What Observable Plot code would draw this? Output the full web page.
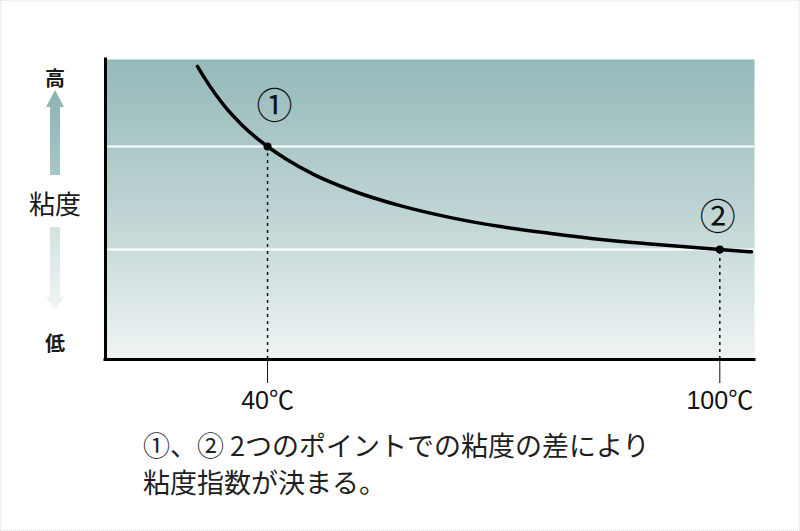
<!DOCTYPE html>
<html>
<head>
<meta charset="utf-8">
<script src="https://cdn.jsdelivr.net/npm/d3@7"></script>
<script src="https://cdn.jsdelivr.net/npm/@observablehq/plot@0.6"></script>
<style>
  html, body { margin: 0; padding: 0; background: #fff; }
  #wrap { position: relative; width: 800px; height: 531px; overflow: hidden; }
  #border { position: absolute; left: 0; top: 0; width: 798px; height: 529px; border: 1px dotted #e2e2e2; pointer-events: none; }
  #caption { padding-left: 143px; padding-top: 1px; font-family: "Noto Sans CJK JP", sans-serif; font-size: 27px; line-height: 37px; color: #1f1f1f; }
</style>
</head>
<body>
<div id="wrap">
  <div id="chart"></div>
  <div id="caption"></div>
  <div id="border"></div>
</div>
<script>
// ---- data ----
const curveTemps = [30.7, 31.8, 33.1, 34.4, 36.4, 38.4, 40, 42.4, 46.1, 51, 57.7, 64.3, 70.9, 77.6, 84.2, 90.8, 100, 104.2];
const curveVisc  = [97.7, 93.2, 88.4, 84.1, 78.7, 74.1, 71, 66.9, 61.7, 56.5, 51.2, 47.3, 44.3, 42, 40, 38.5, 36.7, 35.9];
const pointTemps = [40, 100];
const pointVisc  = [71, 36.7];
const pointLabels = ["①", "②"];
const tickValues = [40, 100];
const tickUnit = "℃";
const xDomain = [18.5, 104.6];
const yDomain = [0, 100];
const axisTop = "高";
const axisMid = "粘度";
const axisBottom = "低";
const captionLines = ["①、② 2つのポイントでの粘度の差により", "粘度指数が決まる。"];

const curve = curveTemps.map((t, i) => ({t, v: curveVisc[i]}));
const points = pointTemps.map((t, i) => ({t, v: pointVisc[i], label: pointLabels[i]}));

function decor(index, scales, values, dims) {
  const g = d3.create("svg:g");
  const defs = g.append("defs");
  const bg = defs.append("linearGradient").attr("id", "bg").attr("x1", 0).attr("y1", 0).attr("x2", 0).attr("y2", 1);
  bg.append("stop").attr("offset", "0%").attr("stop-color", "#95b9b9");
  bg.append("stop").attr("offset", "50%").attr("stop-color", "#bed3d3");
  bg.append("stop").attr("offset", "100%").attr("stop-color", "#eff4f4");
  const up = defs.append("linearGradient").attr("id", "upArrow").attr("x1", 0).attr("y1", 0).attr("x2", 0).attr("y2", 1);
  up.append("stop").attr("offset", "0%").attr("stop-color", "#8db3b3");
  up.append("stop").attr("offset", "100%").attr("stop-color", "#a9c6c6");
  const dn = defs.append("linearGradient").attr("id", "dnArrow").attr("x1", 0).attr("y1", 0).attr("x2", 0).attr("y2", 1);
  dn.append("stop").attr("offset", "0%").attr("stop-color", "#d2e1e1");
  dn.append("stop").attr("offset", "100%").attr("stop-color", "#f0f5f5");

  const cx = dims.marginLeft - 50;
  const top = dims.marginTop;
  const bottom = dims.height - dims.marginBottom;
  const sw = 5, hw = 9;
  const t1 = top + 31, b1 = top + 48, s1 = top + 116;
  g.append("path").attr("fill", "url(#upArrow)")
    .attr("d", `M${cx},${t1} L${cx + hw},${b1} L${cx + sw},${b1} L${cx + sw},${s1} L${cx - sw},${s1} L${cx - sw},${b1} L${cx - hw},${b1} Z`);
  const s2 = top + 168, b2 = bottom - 62, t2 = bottom - 49;
  g.append("path").attr("fill", "url(#dnArrow)")
    .attr("d", `M${cx - sw},${s2} L${cx + sw},${s2} L${cx + sw},${b2} L${cx + hw},${b2} L${cx},${t2} L${cx - hw},${b2} L${cx - sw},${b2} Z`);
  const txt = (s, y, size, weight) => g.append("text").text(s)
    .attr("x", cx).attr("y", y).attr("text-anchor", "middle").attr("dominant-baseline", "central")
    .attr("font-family", "'Noto Sans CJK JP', sans-serif").attr("font-size", size).attr("font-weight", weight)
    .attr("fill", "#1a1a1a");
  txt(axisTop, top + 18, 20, "bold");
  txt(axisMid, top + 143, 26, "normal");
  txt(axisBottom, bottom - 17, 20, "bold");
  return g.node();
}

const chart = Plot.plot({
  width: 800,
  height: 425,
  marginTop: 59,
  marginBottom: 66,
  marginLeft: 105,
  marginRight: 46,
  x: {domain: xDomain, axis: null},
  y: {domain: yDomain, axis: null},
  style: {fontFamily: "'Liberation Sans', 'Noto Sans CJK JP', sans-serif", color: "#111", background: "transparent", overflow: "visible"},
  marks: [
    decor,
    Plot.frame({fill: "url(#bg)", stroke: "none"}),
    Plot.ruleY(pointVisc, {stroke: "white", strokeWidth: 2}),
    Plot.ruleX(points, {x: "t", y1: yDomain[0], y2: "v", stroke: "#111", strokeWidth: 1.5, strokeDasharray: "3,4"}),
    Plot.line(curve, {x: "t", y: "v", curve: "monotone-x", stroke: "#000", strokeWidth: 3.5}),
    Plot.dot(points, {x: "t", y: "v", r: 4, fill: "#000"}),
    Plot.text(points.slice(0, 1), {x: "t", y: "v", text: "label", dx: 7, dy: -39, fontSize: 36, fontFamily: "'Noto Sans CJK JP', sans-serif", fill: "#111"}),
    Plot.text(points.slice(1, 2), {x: "t", y: "v", text: "label", dx: -2, dy: -31, fontSize: 36, fontFamily: "'Noto Sans CJK JP', sans-serif", fill: "#111"}),
    Plot.axisX({ticks: tickValues, tickSize: 24, tickPadding: 8, tickFormat: d => d + tickUnit, fontSize: 25, stroke: "#111", fill: "#111", label: null}),
    Plot.ruleY([yDomain[0]], {stroke: "#000", strokeWidth: 3, strokeLinecap: "square"}),
    Plot.ruleX([xDomain[0]], {stroke: "#000", strokeWidth: 3, strokeLinecap: "square"})
  ]
});
document.getElementById("chart").appendChild(chart);
document.getElementById("caption").innerHTML = captionLines.map(l => `<div>${l}</div>`).join("");
</script>
</body>
</html>
